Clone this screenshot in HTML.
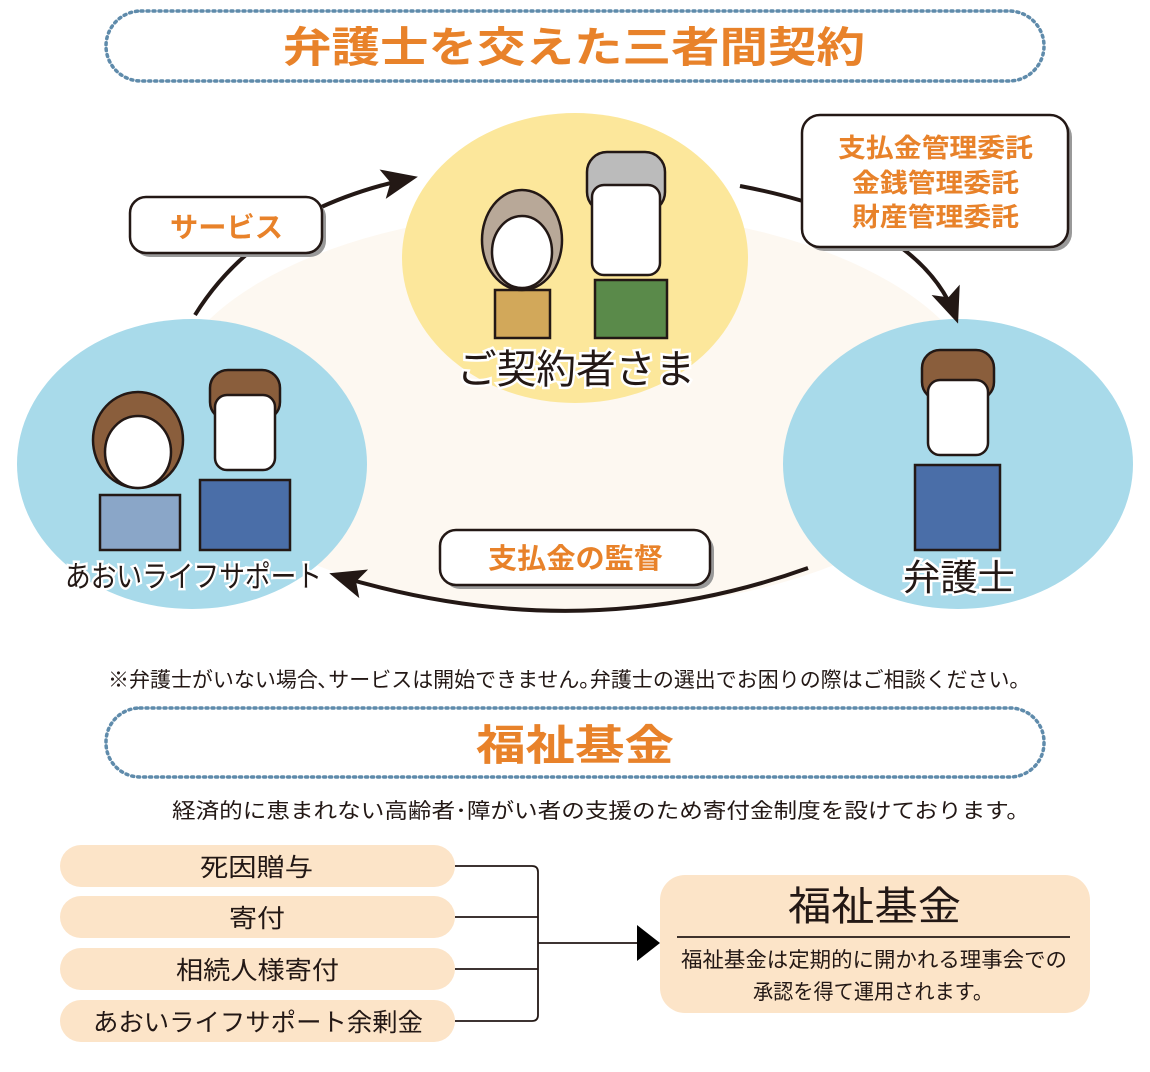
<!DOCTYPE html>
<html><head><meta charset="utf-8"><style>
html,body{margin:0;padding:0;background:#fff;}
svg{display:block;font-family:"Liberation Sans","Noto Sans CJK JP",sans-serif;}
</style></head><body>
<svg width="1150" height="1072" viewBox="0 0 1150 1072" xmlns="http://www.w3.org/2000/svg">
<defs>
<marker id="ah" markerWidth="40" markerHeight="40" refX="30" refY="15" orient="auto" markerUnits="userSpaceOnUse" viewBox="0 0 40 30"><path d="M0,0 L36,15 L0,30 L8,15Z" fill="#231815"/></marker>
</defs>
<rect x="106" y="11" width="938" height="70" rx="35" fill="none" stroke="#5f8bab" stroke-width="3.5" stroke-dasharray="2 4" stroke-linecap="round"/>
<text x="283" y="62" textLength="582" lengthAdjust="spacingAndGlyphs" font-size="42" font-weight="bold" fill="#e8822a">弁護士を交えた三者間契約</text>

<ellipse cx="575" cy="410" rx="410" ry="200" fill="#fdf8f1"/>
<ellipse cx="575" cy="258" rx="173" ry="145" fill="#fce79b"/>
<ellipse cx="192" cy="464" rx="175" ry="145" fill="#a8daea"/>
<ellipse cx="958" cy="464" rx="175" ry="145" fill="#a8daea"/>

<g stroke="#231815" stroke-width="2.5">
<rect x="495" y="290" width="55" height="48" fill="#d2a85a"/>
<ellipse cx="522" cy="240" rx="40" ry="50" fill="#b8a898"/>
<ellipse cx="522" cy="252" rx="30" ry="36" fill="#fff"/>
<rect x="595" y="280" width="72" height="58" fill="#5a8a4a"/>
<rect x="587" y="152" width="78" height="60" rx="20" fill="#bbb"/>
<rect x="592" y="185" width="68" height="90" rx="12" fill="#fff"/>
<rect x="100" y="495" width="80" height="55" fill="#8aa6c8"/>
<ellipse cx="138" cy="440" rx="45" ry="48" fill="#8a5e3c"/>
<ellipse cx="138" cy="452" rx="33" ry="36" fill="#fff"/>
<rect x="200" y="480" width="90" height="70" fill="#4a6ea8"/>
<rect x="210" y="370" width="70" height="50" rx="18" fill="#8a5e3c"/>
<rect x="215" y="395" width="60" height="75" rx="12" fill="#fff"/>
<rect x="915" y="465" width="85" height="85" fill="#4a6ea8"/>
<rect x="922" y="350" width="72" height="50" rx="18" fill="#8a5e3c"/>
<rect x="928" y="380" width="60" height="75" rx="12" fill="#fff"/>
</g>

<path d="M195,315 Q260,210 412,178" fill="none" stroke="#231815" stroke-width="4" marker-end="url(#ah)"/>
<path d="M740,186 Q920,220 956,318" fill="none" stroke="#231815" stroke-width="4" marker-end="url(#ah)"/>
<path d="M808,568 Q580,650 335,575" fill="none" stroke="#231815" stroke-width="4" marker-end="url(#ah)"/>

<rect x="134" y="201" width="192" height="56" rx="16" fill="#999"/>
<rect x="130" y="197" width="192" height="56" rx="16" fill="#fff" stroke="#231815" stroke-width="2.5"/>
<text x="170" y="237" textLength="113" lengthAdjust="spacingAndGlyphs" font-size="28" font-weight="bold" fill="#e8822a">サービス</text>
<rect x="806" y="119" width="266" height="132" rx="18" fill="#999"/>
<rect x="802" y="115" width="266" height="132" rx="18" fill="#fff" stroke="#231815" stroke-width="2.5"/>
<g font-size="26" font-weight="bold" fill="#e8822a">
<text x="838" y="157" textLength="195" lengthAdjust="spacingAndGlyphs">支払金管理委託</text>
<text x="852" y="192" textLength="167" lengthAdjust="spacingAndGlyphs">金銭管理委託</text>
<text x="852" y="226" textLength="167" lengthAdjust="spacingAndGlyphs">財産管理委託</text>
</g>
<rect x="444" y="534" width="270" height="55" rx="16" fill="#999"/>
<rect x="440" y="530" width="270" height="55" rx="16" fill="#fff" stroke="#231815" stroke-width="2.5"/>
<text x="488" y="568" textLength="175" lengthAdjust="spacingAndGlyphs" font-size="28" font-weight="bold" fill="#e8822a">支払金の監督</text>

<g fill="#231815" stroke="#fff" stroke-width="5" paint-order="stroke">
<text x="457" y="383" textLength="238" lengthAdjust="spacingAndGlyphs" font-size="40">ご契約者さま</text>
<text x="65" y="587" textLength="257" lengthAdjust="spacingAndGlyphs" font-size="30">あおいライフサポート</text>
<text x="903" y="590" textLength="112" lengthAdjust="spacingAndGlyphs" font-size="36">弁護士</text>
</g>

<text x="108" y="687" textLength="912" lengthAdjust="spacingAndGlyphs" font-size="21" fill="#231815">※弁護士がいない場合､サービスは開始できません｡弁護士の選出でお困りの際はご相談ください｡</text>

<rect x="106" y="708" width="938" height="69" rx="34" fill="none" stroke="#5f8bab" stroke-width="3.5" stroke-dasharray="2 4" stroke-linecap="round"/>
<text x="476" y="760" textLength="198" lengthAdjust="spacingAndGlyphs" font-size="42" font-weight="bold" fill="#e8822a">福祉基金</text>
<text x="172" y="818" textLength="858" lengthAdjust="spacingAndGlyphs" font-size="21" fill="#231815">経済的に恵まれない高齢者･障がい者の支援のため寄付金制度を設けております。</text>

<g fill="#fce4c8">
<rect x="60" y="845" width="395" height="42" rx="21"/>
<rect x="60" y="896" width="395" height="42" rx="21"/>
<rect x="60" y="948" width="395" height="42" rx="21"/>
<rect x="60" y="1000" width="395" height="42" rx="21"/>
<rect x="660" y="875" width="430" height="138" rx="25"/>
</g>
<g font-size="25" fill="#231815">
<text x="200" y="876" textLength="113" lengthAdjust="spacingAndGlyphs">死因贈与</text>
<text x="229" y="927" textLength="56" lengthAdjust="spacingAndGlyphs">寄付</text>
<text x="176" y="979" textLength="163" lengthAdjust="spacingAndGlyphs">相続人様寄付</text>
<text x="93" y="1031" textLength="330" lengthAdjust="spacingAndGlyphs">あおいライフサポート余剰金</text>
</g>
<g fill="none" stroke="#231815" stroke-width="1.8">
<path d="M455,866 H532 Q538,866 538,872 V1015 Q538,1021 532,1021 H455"/>
<path d="M455,917 H538 M455,969 H538 M538,943 H640"/>
</g>
<path d="M637,925 L660,943 L637,961Z" fill="#000"/>
<text x="788" y="920" textLength="173" lengthAdjust="spacingAndGlyphs" font-size="40" fill="#231815">福祉基金</text>
<line x1="677" y1="937" x2="1070" y2="937" stroke="#231815" stroke-width="1.8"/>
<text x="681" y="967" textLength="386" lengthAdjust="spacingAndGlyphs" font-size="21" fill="#231815">福祉基金は定期的に開かれる理事会での</text>
<text x="753" y="999" textLength="240" lengthAdjust="spacingAndGlyphs" font-size="21" fill="#231815">承認を得て運用されます。</text>
</svg>
</body></html>
